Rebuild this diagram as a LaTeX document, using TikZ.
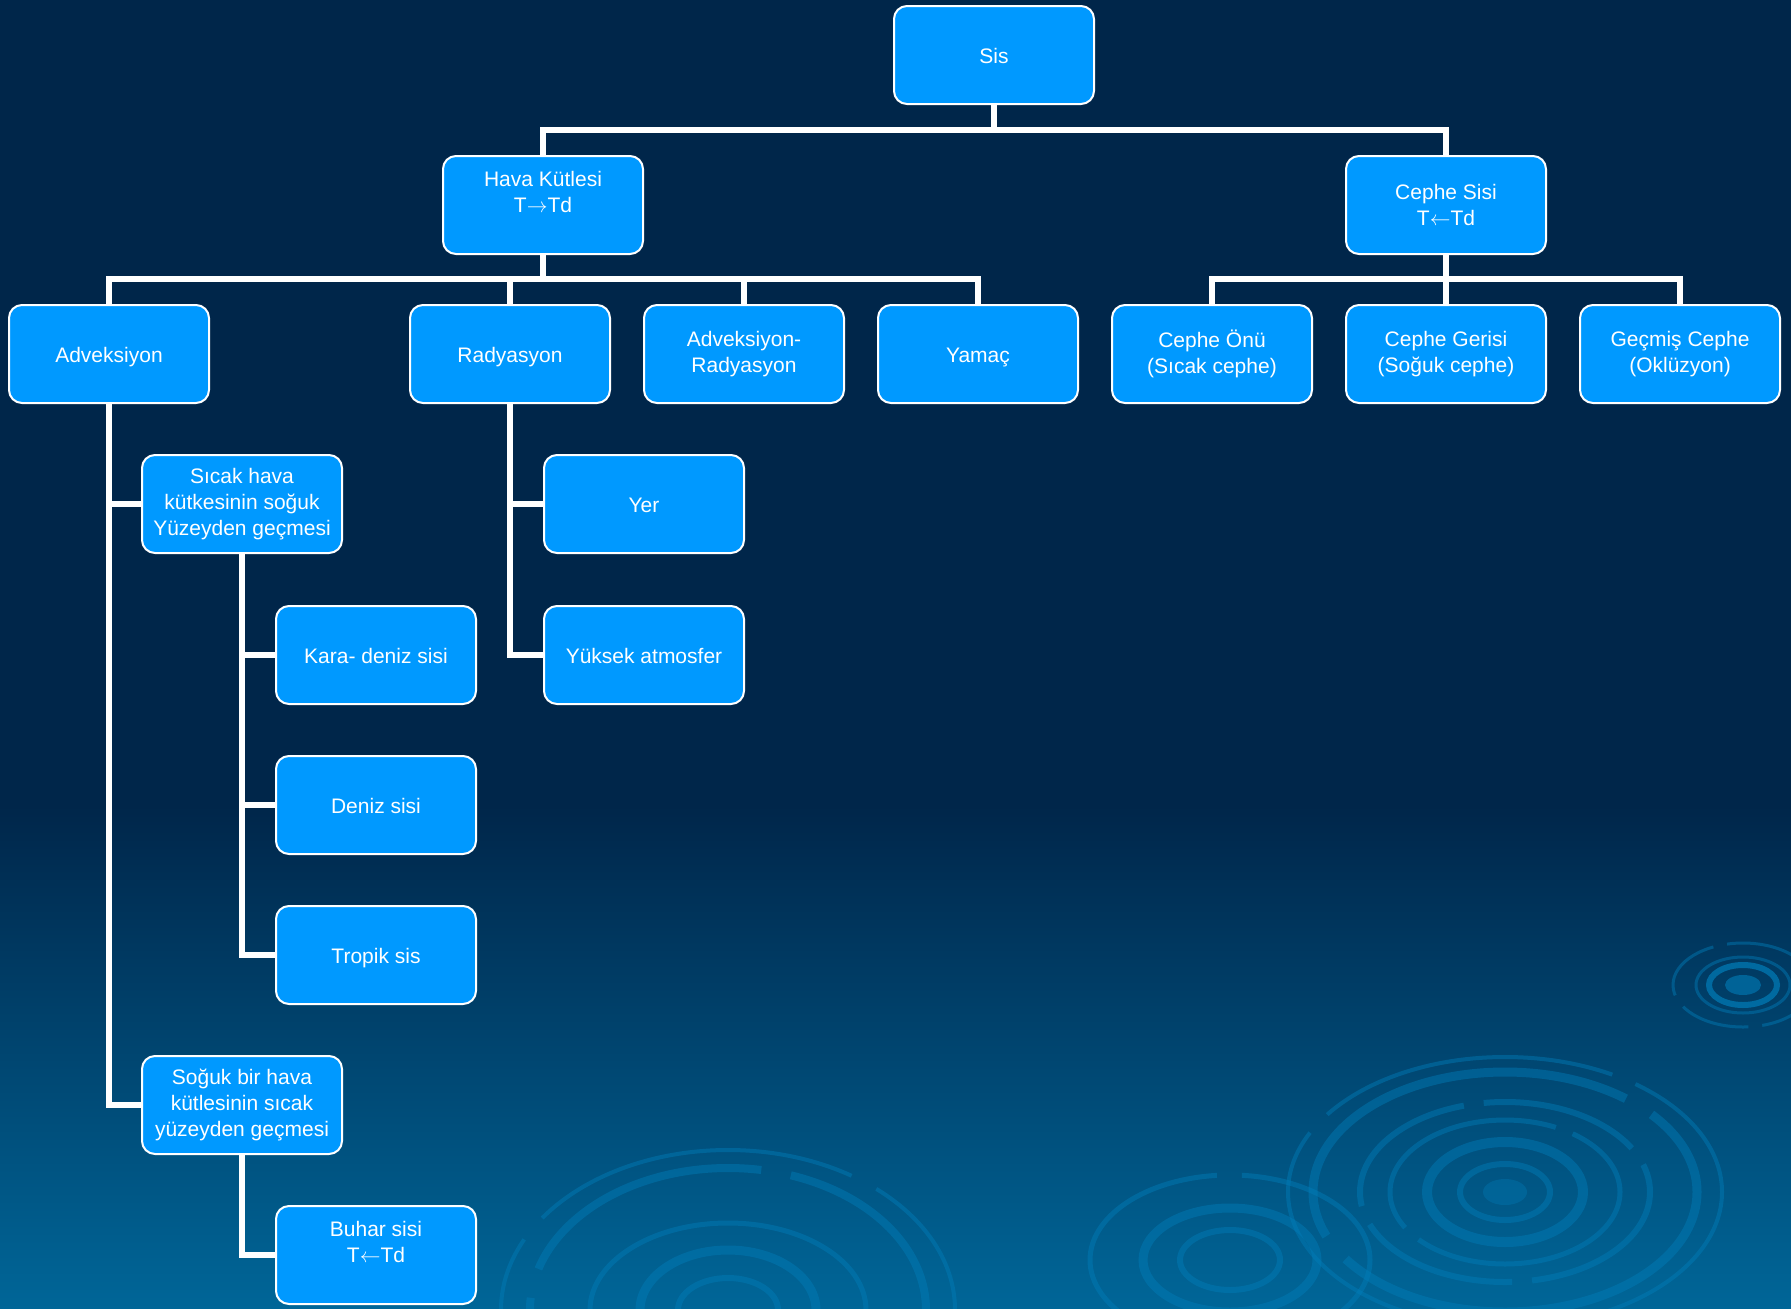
\documentclass[tikz,border=0pt]{standalone}
\usepackage{fontspec}
\setmainfont{Liberation Sans}
\definecolor{bgtop}{RGB}{0,38,74}
\definecolor{bgbot}{RGB}{0,102,152}
\definecolor{boxblue}{RGB}{0,153,255}
\definecolor{ripple}{RGB}{0,125,185}
\tikzset{
  box/.style={draw=white, line width=2pt, fill=boxblue, rounded corners=13pt,
    minimum width=200pt, minimum height=98pt, inner sep=0pt, align=center,
    text=white, font=\fontsize{21}{26}\selectfont},
  oneline/.style={text height=16pt, text depth=0pt},
  link/.style={draw=white, line width=5.5pt, line join=miter},
  rip/.style={draw=ripple, draw opacity=0.45}
}
\begin{document}
\begin{tikzpicture}[x=1pt, y=-1pt]
\useasboundingbox (0,0) rectangle (1791,1309);
% background
\fill[bgtop] (0,0) rectangle (1791,1309);
\shade[top color=bgtop, bottom color=bgbot] (0,805) rectangle (1791,1309);
% ripples
\begin{scope}
\clip (0,0) rectangle (1791,1309);
% big right ripple
\draw[rip, line width=4pt, dash pattern=on 300pt off 25pt] (1505,1192) ellipse [x radius=217, y radius=135];
\draw[rip, line width=9pt, dash pattern=on 420pt off 30pt] (1505,1192) ellipse [x radius=192, y radius=120];
\draw[rip, line width=6pt, dash pattern=on 160pt off 20pt] (1505,1192) ellipse [x radius=145, y radius=90];
\draw[rip, line width=5pt, dash pattern=on 240pt off 18pt] (1505,1192) ellipse [x radius=115, y radius=72];
\draw[rip, line width=10pt] (1505,1192) ellipse [x radius=78, y radius=50];
\draw[rip, line width=6pt] (1505,1192) ellipse [x radius=45, y radius=28];
\fill[ripple, fill opacity=0.35] (1505,1192) ellipse [x radius=22, y radius=13];
% middle ripple
\draw[rip, line width=5pt, dash pattern=on 250pt off 25pt] (1230,1260) ellipse [x radius=140, y radius=85];
\draw[rip, line width=9pt] (1230,1260) ellipse [x radius=87, y radius=52];
\draw[rip, line width=6pt] (1230,1260) ellipse [x radius=50, y radius=30];
% left ripple
\draw[rip, line width=4pt, dash pattern=on 330pt off 28pt] (728,1310) ellipse [x radius=227, y radius=160];
\draw[rip, line width=8pt, dash pattern=on 260pt off 30pt] (728,1310) ellipse [x radius=198, y radius=142];
\draw[rip, line width=5pt] (728,1310) ellipse [x radius=138, y radius=87];
\draw[rip, line width=9pt] (728,1310) ellipse [x radius=88, y radius=60];
\draw[rip, line width=6pt] (728,1310) ellipse [x radius=50, y radius=32];
% small right ripple
\draw[rip, line width=3pt, dash pattern=on 70pt off 14pt] (1743,985) ellipse [x radius=70, y radius=42];
\draw[rip, line width=3pt] (1743,985) ellipse [x radius=47, y radius=28];
\draw[rip, line width=6pt, draw opacity=0.7] (1743,985) ellipse [x radius=34, y radius=20];
\fill[ripple, fill opacity=0.6] (1743,985) ellipse [x radius=18, y radius=10];
\end{scope}
% nodes
\node[box, oneline] (sis) at (994,55) {Sis};
\node[box] (hava) at (543,205) {Hava Kütlesi\\T$\rightarrow$Td\\\mbox{}};
\node[box] (cephe) at (1446,205) {Cephe Sisi\\T$\leftarrow$Td};
\node[box, oneline] (adv) at (109,354) {Adveksiyon};
\node[box, oneline] (rad) at (510,354) {Radyasyon};
\node[box] (advrad) at (744,354) {Adveksiyon-\\Radyasyon};
\node[box, oneline] (yam) at (978,354) {Yamaç};
\node[box] (onu) at (1212,354) {Cephe Önü\\(Sıcak cephe)};
\node[box] (geri) at (1446,354) {Cephe Gerisi\\(Soğuk cephe)};
\node[box] (gecmis) at (1680,354) {Geçmiş Cephe\\(Oklüzyon)};
\node[box] (sicak) at (242,504) {Sıcak hava\\kütkesinin soğuk\\Yüzeyden geçmesi};
\node[box, oneline] (yer) at (644,504) {Yer};
\node[box, oneline] (kara) at (376,655) {Kara- deniz sisi};
\node[box, oneline] (yuksek) at (644,655) {Yüksek atmosfer};
\node[box, oneline] (deniz) at (376,805) {Deniz sisi};
\node[box, oneline] (tropik) at (376,955) {Tropik sis};
\node[box] (soguk) at (242,1105) {Soğuk bir hava\\kütlesinin sıcak\\yüzeyden geçmesi};
\node[box] (buhar) at (376,1255) {Buhar sisi\\T$\leftarrow$Td\\\mbox{}};
% junctions
\coordinate (j1) at (994,130);
\coordinate (j2) at (543,279);
\coordinate (j3) at (1446,279);
% connectors
\draw[link] (sis.south) -- (j1);
\draw[link] (hava.north) |- (j1) -| (cephe.north);
\draw[link] (hava.south) -- (j2);
\draw[link] (adv.north) |- (j2) -| (yam.north);
\draw[link] (rad.north) -- (rad.north |- j2);
\draw[link] (advrad.north) -- (advrad.north |- j2);
\draw[link] (cephe.south) -- (j3);
\draw[link] (onu.north) |- (j3) -| (gecmis.north);
\draw[link] (geri.north) -- (j3);
\draw[link] (adv.south) |- (sicak.west);
\draw[link] (adv.south) |- (soguk.west);
\draw[link] (sicak.south) |- (kara.west);
\draw[link] (sicak.south) |- (deniz.west);
\draw[link] (sicak.south) |- (tropik.west);
\draw[link] (soguk.south) |- (buhar.west);
\draw[link] (rad.south) |- (yer.west);
\draw[link] (rad.south) |- (yuksek.west);
\end{tikzpicture}
\end{document}
